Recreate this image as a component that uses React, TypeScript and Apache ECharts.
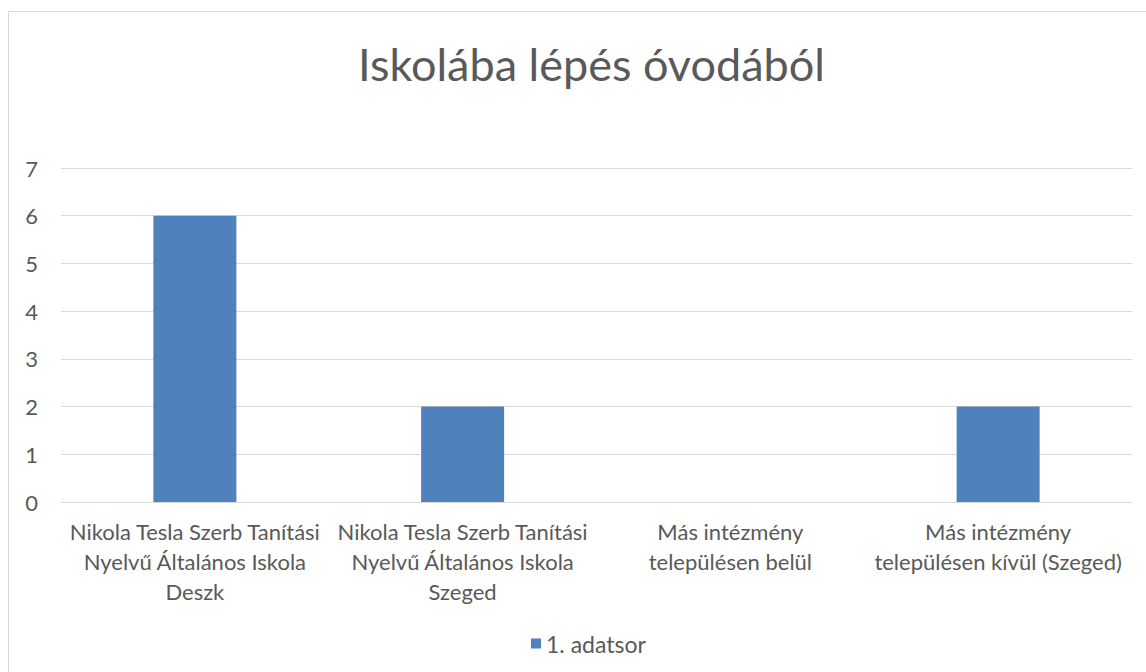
import React, { useEffect, useRef } from "react";
import * as echarts from "echarts";

const title = "Iskolába lépés óvodából";
const categories = [
  "Nikola Tesla Szerb Tanítási\nNyelvű Általános Iskola\nDeszk",
  "Nikola Tesla Szerb Tanítási\nNyelvű Általános Iskola\nSzeged",
  "Más intézmény\ntelepülésen belül",
  "Más intézmény\ntelepülésen kívül (Szeged)",
];
const seriesName = "1. adatsor";
const values = [6, 2, 0, 2];

const FONT = "Lato, 'Open Sans', sans-serif";
const TEXT = "#595959";

export default function App() {
  const ref = useRef<HTMLDivElement>(null);
  useEffect(() => {
    if (!ref.current) return;
    const chart = echarts.init(ref.current, undefined, { renderer: "svg" });
    chart.setOption({
      animation: false,
      backgroundColor: "#ffffff",
      title: {
        text: title,
        left: 353,
        top: 36,
        textStyle: { color: TEXT, fontFamily: FONT, fontSize: 45, fontWeight: "normal" },
      },
      graphic: [
        { type: "line", shape: { x1: 8.5, y1: 11.5, x2: 1146, y2: 11.5 }, style: { stroke: "#d9d9d9", lineWidth: 1 } },
        { type: "line", shape: { x1: 8.5, y1: 11.5, x2: 8.5, y2: 672 }, style: { stroke: "#d9d9d9", lineWidth: 1 } },
      ],
      legend: {
        data: [seriesName],
        bottom: 17,
        left: 531,
        padding: 0,
        icon: "rect",
        itemWidth: 10,
        itemHeight: 10,
        itemGap: 6,
        textStyle: { color: TEXT, fontFamily: FONT, fontSize: 23, padding: [0, 0, 0, 0] },
      },
      grid: { left: 61, right: 14, top: 168, bottom: 170, containLabel: false },
      xAxis: {
        type: "category",
        data: categories,
        axisLine: { show: true, lineStyle: { color: "#d9d9d9", width: 1 } },
        axisTick: { show: false },
        axisLabel: {
          color: TEXT,
          fontFamily: FONT,
          fontSize: 22,
          lineHeight: 30,
          margin: 14,
          interval: 0,
          align: "center",
        },
      },
      yAxis: {
        type: "value",
        min: 0,
        max: 7,
        interval: 1,
        axisLine: { show: false },
        axisTick: { show: false },
        splitLine: { lineStyle: { color: "#d9d9d9", width: 1 } },
        axisLabel: { color: TEXT, fontFamily: FONT, fontSize: 22, margin: 23 },
      },
      series: [
        {
          name: seriesName,
          type: "bar",
          data: values,
          barWidth: "31%",
          itemStyle: { color: "#4F81BD" },
        },
      ],
    });
    return () => chart.dispose();
  }, []);
  return (
    <div
      ref={ref}
      style={{ position: "fixed", left: 0, top: 0, width: 1146, height: 672 }}
    />
  );
}
